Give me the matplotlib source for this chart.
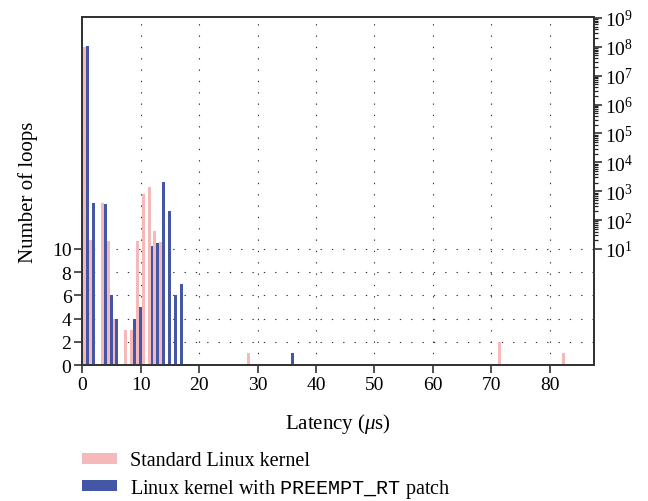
import numpy as np
import matplotlib
matplotlib.use("Agg")
import matplotlib.pyplot as plt
from matplotlib.patches import Patch
from matplotlib.ticker import FixedLocator, NullLocator, NullFormatter

plt.rcParams['font.family'] = 'Liberation Serif'
plt.rcParams['mathtext.fontset'] = 'custom'
plt.rcParams['mathtext.rm'] = 'Liberation Serif'
plt.rcParams['mathtext.it'] = 'Liberation Serif:italic'
plt.rcParams['mathtext.tt'] = 'Liberation Mono'

# histogram of latencies (us) -> number of loops
latency = [1, 2, 4, 5, 6, 8, 9, 10, 11, 12, 13, 14, 15, 16, 17, 29, 36, 72, 83]
standard = [1.0e8, 20, 390, 19, 4, 3, 3, 19, 800, 1400, 42, 17, 0, 0, 0, 1, 0, 2, 1]
preempt = [1.1e8, 390, 360, 6, 4, 0, 4, 5, 0, 12.6, 16, 2100, 205, 6, 7, 0, 1, 0, 0]

left_ticks = [0, 2, 4, 6, 8, 10]
right_ticks = [10 ** k for k in range(1, 10)]
x_ticks = list(range(0, 90, 10))

pink = '#f6b9b9'
blue = '#4456a6'

# linear up to 10, log above (one decade = K linear units)
K = 2.49
def fwd(y):
    y = np.asarray(y, dtype=float)
    return np.where(y <= 10, y, 10 + K * np.log10(np.maximum(y, 1e-12) / 10))

def inv(t):
    t = np.asarray(t, dtype=float)
    return np.where(t <= 10, t, 10 * 10 ** ((t - 10) / K))

fig = plt.figure(figsize=(6.48, 5.02), dpi=100)
ax = fig.add_axes([0.1273, 0.2709, 0.7886, 0.6926])
ax.set_yscale('function', functions=(fwd, inv))

lat = np.array(latency, dtype=float)
ax.bar(lat - 0.85, standard, width=0.5, align='edge', color=pink, linewidth=0, zorder=2)
ax.bar(lat - 0.35, preempt, width=0.5, align='edge', color=blue, linewidth=0, zorder=3)

ax.set_xlim(0, 87.5)
ax.set_ylim(0, 10 ** 9.02)

ax.yaxis.set_major_locator(FixedLocator(left_ticks))
ax.yaxis.set_minor_locator(NullLocator())
ax.set_yticklabels([str(t) for t in left_ticks])
ax.set_xticks(x_ticks)

dots = (0, (1.2, 9))
ax.grid(True, axis='both', color='#333333', linestyle=dots, linewidth=0.8)
ax.set_axisbelow(True)

ax2 = ax.twinx()
ax2.set_yscale('function', functions=(fwd, inv))
ax2.set_ylim(ax.get_ylim())
ax2.yaxis.set_major_locator(FixedLocator(right_ticks))
minors = [m * 10 ** k for k in range(1, 9) for m in range(2, 10)]
ax2.yaxis.set_minor_locator(FixedLocator(minors))
ax2.set_yticklabels([r'$10^{%d}$' % k for k in range(1, 10)])
ax2.yaxis.set_minor_formatter(NullFormatter())

for a in (ax, ax2):
    for s in a.spines.values():
        s.set_color('#333333')
        s.set_linewidth(1.3)
    a.tick_params(which='major', direction='out', length=6, width=1.1,
                  color='#222222', labelsize=14, pad=2)
    a.tick_params(which='minor', direction='out', length=3, width=0.9, color='#222222')

ax.set_xlabel(r'Latency ($\mu$s)', fontsize=15, labelpad=13)
ax.set_ylabel('Number of loops', fontsize=15, labelpad=10)

handles = [Patch(facecolor=pink, edgecolor='none'),
           Patch(facecolor=blue, edgecolor='none')]
labels = ['Standard Linux kernel',
          r'Linux kernel with $\mathtt{PREEMPT\_RT}$ patch']
fig.legend(handles, labels, loc='upper left', bbox_to_anchor=(0.127, 0.099),
           frameon=False, borderaxespad=0, borderpad=0, fontsize=14.5,
           handlelength=1.7, handleheight=0.48, handletextpad=0.65,
           labelspacing=0.33)

fig.savefig('out.png', dpi=100)
